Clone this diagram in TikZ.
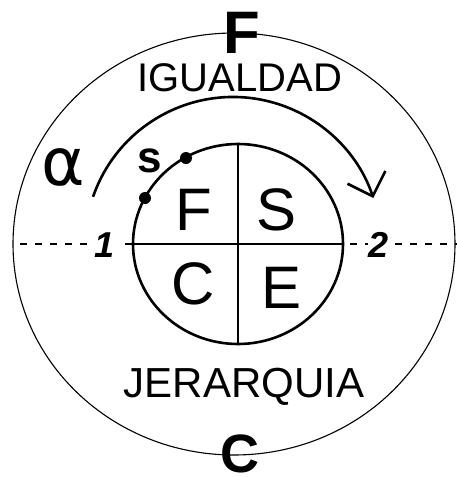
\documentclass[tikz,border=0pt]{standalone}
\usepackage{fontspec}
\setmainfont{Liberation Sans}
\newfontfamily\dejavu{DejaVu Sans}
\usetikzlibrary{arrows.meta,shapes.geometric}
\begin{document}
\begin{tikzpicture}[x=1pt,y=-1pt,
  heavy/.style={line width=2.6pt},
  thin/.style={line width=1.1pt},
  dashline/.style={line width=1.5pt,dash pattern=on 7pt off 8pt},
  lbl/.style={inner sep=0pt,anchor=base},
  dotmark/.style={circle,fill=black,inner sep=0pt,minimum size=12pt},
  ring/.style={ellipse,inner sep=0pt}]
\useasboundingbox (0,0) rectangle (456,477);
% outer ellipse
\node[ring,thin,draw,minimum width=442pt,minimum height=422pt] (outer) at (234,244) {};
% dashed axis
\coordinate (dl) at (20,244);
\coordinate (dr) at (458,244);
\draw[dashline] (dl) -- (dr);
% inner circle and cross
\node[ring,heavy,draw,fill=white,minimum width=210pt,minimum height=200pt] (inner) at (238,244) {};
\draw[heavy] (inner.north) -- (inner.south);
\draw[heavy] (inner.west) -- (inner.east);
% axis labels
\node[fill=white,inner sep=1.5pt,font=\bfseries\itshape\fontsize{36}{36}\selectfont] (one) at (105,245) {1};
\node[fill=white,inner sep=0.5pt,font=\bfseries\itshape\fontsize{36}{36}\selectfont] (two) at (379,245) {2};
% quadrant letters
\node[lbl,font=\fontsize{60}{60}\selectfont] (qF) at (194,230) {F};
\node[lbl,font=\fontsize{60}{60}\selectfont] (qS) at (277,230) {S};
\node[lbl,font=\fontsize{60}{60}\selectfont] (qC) at (193,304) {C};
\node[lbl,font=\fontsize{60}{60}\selectfont] (qE) at (282,308) {E};
% words
\node[lbl,font=\fontsize{40}{40}\selectfont] (igual) at (240,91) {IGUALDAD};
\node[lbl,font=\fontsize{42}{42}\selectfont] (jer) at (244,397) {JERARQUIA};
% top and bottom letters
\node[lbl,font=\bfseries\fontsize{60}{60}\selectfont] (topF) at (242,53) {F};
\node[lbl,font=\bfseries\fontsize{54}{54}\selectfont] (botC) at (240,472) {C};
% arrow arc
\draw[heavy,-{Straight Barb[length=20pt,width=40pt,line width=2.6pt]}] (233,245) ++(-161:148) arc[start angle=-161,end angle=-18.5,radius=148];
% dots and small s
\node[dotmark] (d1) at (186,158) {};
\node[dotmark] (d2) at (145,198) {};
\node[lbl,font=\bfseries\fontsize{44}{44}\selectfont] (s) at (150,172) {s};
% alpha
\node[inner sep=0pt,font=\dejavu\fontsize{66}{66}\selectfont] (alpha) at (63,167) {α};
\end{tikzpicture}
\end{document}
